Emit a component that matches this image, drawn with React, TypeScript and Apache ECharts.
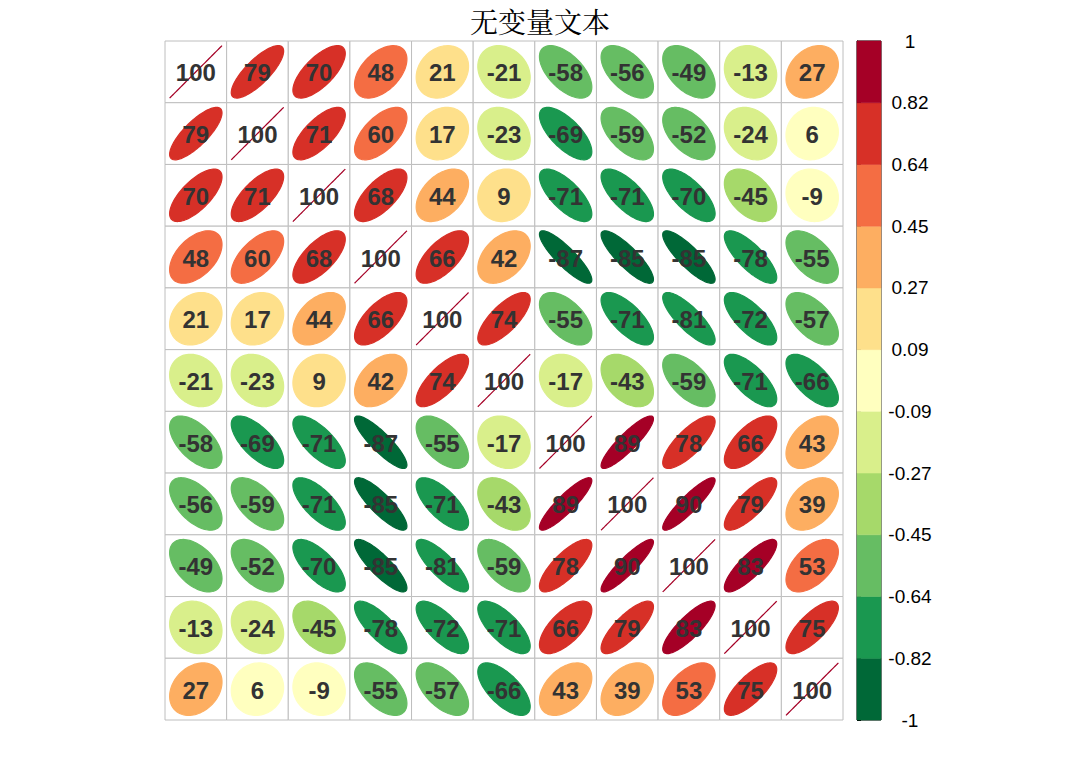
import React, { useEffect, useRef } from "react";
import * as echarts from "echarts";

// Correlation matrix (rows top to bottom, columns left to right)
const corrRows: number[][] = [
  [1.0, 0.79, 0.7, 0.48, 0.21, -0.21, -0.58, -0.56, -0.49, -0.13, 0.274],
  [0.79, 1.0, 0.71, 0.6, 0.17, -0.23, -0.69, -0.59, -0.52, -0.24, 0.06],
  [0.7, 0.71, 1.0, 0.68, 0.44, 0.093, -0.71, -0.71, -0.7, -0.45, -0.088],
  [0.48, 0.6, 0.68, 1.0, 0.66, 0.42, -0.87, -0.85, -0.85, -0.78, -0.55],
  [0.21, 0.17, 0.44, 0.66, 1.0, 0.74, -0.55, -0.71, -0.81, -0.72, -0.57],
  [-0.21, -0.23, 0.093, 0.42, 0.74, 1.0, -0.17, -0.43, -0.59, -0.71, -0.66],
  [-0.58, -0.69, -0.71, -0.87, -0.55, -0.17, 1.0, 0.89, 0.78, 0.66, 0.43],
  [-0.56, -0.59, -0.71, -0.85, -0.71, -0.43, 0.89, 1.0, 0.9, 0.79, 0.39],
  [-0.49, -0.52, -0.7, -0.85, -0.81, -0.59, 0.78, 0.9, 1.0, 0.83, 0.53],
  [-0.13, -0.24, -0.45, -0.78, -0.72, -0.71, 0.66, 0.79, 0.83, 1.0, 0.75],
  [0.274, 0.06, -0.088, -0.55, -0.57, -0.66, 0.43, 0.39, 0.53, 0.75, 1.0],
];

const varNames = ["V1", "V2", "V3", "V4", "V5", "V6", "V7", "V8", "V9", "V10", "V11"];

// RdYlGn palette, from -1 (bottom) to 1 (top)
const palette = [
  "#006837", "#1A9850", "#66BD63", "#A6D96A", "#D9EF8B", "#FFFFBF",
  "#FEE08B", "#FDAE61", "#F46D43", "#D73027", "#A50026",
];

const titleText = "无变量文本";

function colorFor(v: number): string {
  const n = palette.length;
  let idx = Math.floor(((v + 1) / 2) * n);
  if (idx < 0) idx = 0;
  if (idx > n - 1) idx = n - 1;
  return palette[idx];
}

export default function App() {
  const ref = useRef<HTMLDivElement>(null);

  useEffect(() => {
    if (!ref.current) return;
    const chart = echarts.init(ref.current, null, { renderer: "svg" });

    const cellData: number[][] = [];
    corrRows.forEach((row, r) => {
      row.forEach((v, c) => {
        cellData.push([c, r, v]);
      });
    });

    const barData = palette.map((col, i) => [i, col]);

    const option: any = {
      animation: false,
      backgroundColor: "#ffffff",
      title: {
        text: titleText,
        left: "center",
        top: 2,
        textStyle: {
          fontSize: 28,
          fontWeight: "normal",
          color: "#000",
          fontFamily: "'Noto Serif CJK SC', 'Noto Sans CJK SC', serif",
        },
      },
      grid: [
        { left: 165, top: 41, width: 678, height: 679 },
        {
          left: 857,
          top: 41,
          width: 24,
          height: 679,
          show: true,
          borderColor: "#000",
          borderWidth: 1,
          backgroundColor: "transparent",
        },
      ],
      xAxis: [
        {
          type: "category",
          gridIndex: 0,
          data: varNames,
          show: false,
        },
        { type: "value", gridIndex: 1, min: 0, max: 1, show: false },
      ],
      yAxis: [
        {
          type: "category",
          gridIndex: 0,
          data: varNames,
          inverse: true,
          show: false,
        },
        {
          type: "value",
          gridIndex: 1,
          min: 0,
          max: 11,
          interval: 1,
          position: "right",
          axisLine: { show: true, lineStyle: { color: "#000", width: 1 } },
          axisTick: { show: true, length: 4, lineStyle: { color: "#000" } },
          splitLine: { show: false },
          axisLabel: {
            show: true,
            color: "#000",
            fontSize: 19,
            fontFamily: "'Liberation Sans', Arial, sans-serif",
            align: "center",
            margin: 29,
            formatter: (v: number) => {
              if (v === 0) return "-1";
              if (v === 11) return "1";
              return (-1 + (v * 2) / 11).toFixed(2);
            },
          },
        },
      ],
      series: [
        {
          type: "custom",
          xAxisIndex: 0,
          yAxisIndex: 0,
          data: cellData,
          renderItem: (params: any, api: any) => {
            const col = api.value(0);
            const row = api.value(1);
            const r = api.value(2) as number;
            const c = api.coord([col, row]);
            const s = api.size([1, 1]);
            const w = s[0];
            const h = s[1];
            const a = Math.acos(Math.max(-1, Math.min(1, r)));
            const pts: number[][] = [];
            for (let i = 0; i < 99; i++) {
              const k = (i * 2 * Math.PI) / 98;
              pts.push([
                c[0] + ((0.85 * Math.cos(k + a / 2)) / 2) * w,
                c[1] - ((0.85 * Math.cos(k - a / 2)) / 2) * h,
              ]);
            }
            const color = colorFor(r);
            return {
              type: "group",
              children: [
                {
                  type: "rect",
                  shape: { x: c[0] - w / 2, y: c[1] - h / 2, width: w, height: h },
                  style: { fill: "#fff", stroke: "#BEBEBE", lineWidth: 1 },
                },
                {
                  type: "polygon",
                  shape: { points: pts },
                  style: { fill: color, stroke: color, lineWidth: 1.2 },
                },
                {
                  type: "text",
                  x: c[0],
                  y: c[1] + 1,
                  style: {
                    text: String(Math.round(r * 100)),
                    fill: "#333333",
                    font: "bold 24px 'Liberation Sans', Arial, sans-serif",
                    align: "center",
                    verticalAlign: "middle",
                    textAlign: "center",
                    textVerticalAlign: "middle",
                  },
                },
              ],
            };
          },
        },
        {
          type: "custom",
          xAxisIndex: 1,
          yAxisIndex: 1,
          data: barData,
          renderItem: (params: any, api: any) => {
            const i = api.value(0) as number;
            const color = palette[i];
            const p0 = api.coord([0, i]);
            const p1 = api.coord([1, i + 1]);
            return {
              type: "rect",
              shape: {
                x: p0[0],
                y: p1[1],
                width: p1[0] - p0[0],
                height: p0[1] - p1[1],
              },
              style: { fill: color, stroke: color, lineWidth: 0.5 },
            };
          },
        },
      ],
    };

    chart.setOption(option);
    return () => chart.dispose();
  }, []);

  return (
    <div
      ref={ref}
      style={{ position: "fixed", left: 0, top: 0, width: 1080, height: 771 }}
    />
  );
}
